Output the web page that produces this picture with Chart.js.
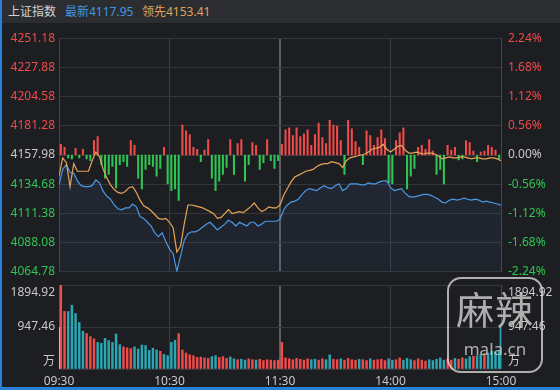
<!DOCTYPE html>
<html>
<head>
<meta charset="utf-8">
<script src="https://cdn.jsdelivr.net/npm/chart.js@4.4.1/dist/chart.umd.min.js"></script>
<style>
  body { margin: 0; width: 560px; height: 390px; overflow: hidden; position: relative; background: #1d1e22; font-family: "Noto Sans", "Noto Sans CJK SC", sans-serif; }
  #head { position: absolute; left: 0; top: 0; width: 560px; height: 23px; background: #2b2d31; font-size: 12px; line-height: 24px; white-space: nowrap; }
  #head span { position: absolute; top: 0; }
  #main { position: absolute; left: 0; top: 24px; }
  #vol { position: absolute; left: 0; top: 278px; }
  #edgeL { position: absolute; left: 0; top: 0; width: 2px; height: 390px; background: #2a7fd6; }
  #edgeB { position: absolute; left: 0; top: 387px; width: 560px; height: 3px; background: #2a7fd6; }
  #mark { position: absolute; left: 447px; top: 277px; width: 92px; height: 92px; border: 2px solid rgba(225,225,225,0.75); border-radius: 14px; color: rgba(200,200,200,0.85); text-align: center; }
  #mark .big { font-size: 38px; line-height: 40px; margin-top: 10px; letter-spacing: 1px; }
  #mark .small { font-size: 17px; line-height: 20px; margin-top: 10px; }
</style>
</head>
<body>
<div id="head">
  <span style="left:8px;color:#d2d2d2">上证指数</span>
  <span style="left:65px;color:#3f97e6">最新4117.95</span>
  <span style="left:142px;color:#e2a25a">领先4153.41</span>
</div>
<canvas id="main" width="560" height="262"></canvas>
<canvas id="vol" width="560" height="112"></canvas>
<div id="mark"><div class="big">麻辣</div><div class="small">mala.cn</div></div>
<div id="edgeL"></div>
<div id="edgeB"></div>
<script>
// time axis (minutes since 09:30, lunch break removed)
const timeTicks = [0, 60, 120, 180, 240];
const timeLabels = ['09:30', '10:30', '11:30', '14:00', '15:00'];

const prevClose = 4157.98;
const priceTicks = [4064.78, 4088.08, 4111.38, 4134.68, 4157.98, 4181.28, 4204.58, 4227.88, 4251.18];
const pctTicks = [-2.24, -1.68, -1.12, -0.56, 0, 0.56, 1.12, 1.68, 2.24];
const volTicks = [0, 947.46, 1894.92];

// index price, one value every 2 minutes
const price = [
  4134.2, 4146.5, 4150.3, 4144.2, 4143.4, 4137.3, 4133.5, 4132.7, 4132.7, 4133.5,
  4138.1, 4135.8, 4128.9, 4125.0, 4122.7, 4118.1, 4115.1, 4114.3, 4115.8, 4115.8,
  4118.9, 4116.6, 4108.9, 4107.4, 4104.3, 4101.3, 4095.9, 4092.8, 4095.9, 4089.0,
  4082.9, 4079.0, 4065.2, 4077.5, 4089.8, 4095.1, 4096.7, 4096.7, 4098.2, 4100.5,
  4102.8, 4104.3, 4101.3, 4098.2, 4100.5, 4102.8, 4105.9, 4104.3, 4101.3, 4104.3,
  4102.8, 4101.3, 4104.3, 4104.3, 4101.3, 4102.8, 4105.1, 4105.1, 4105.1, 4105.1,
  4106.6, 4114.3, 4118.1, 4120.4, 4121.2, 4122.7, 4126.6, 4129.6, 4131.2, 4130.4,
  4129.6, 4131.9, 4133.5, 4131.9, 4131.2, 4133.5, 4135.0, 4129.6, 4131.2, 4135.0,
  4135.0, 4135.0, 4134.2, 4134.2, 4135.8, 4135.0, 4135.0, 4136.5, 4137.3, 4137.3,
  4131.9, 4129.6, 4130.4, 4131.2, 4127.3, 4125.0, 4124.3, 4125.0, 4125.8, 4126.6,
  4126.6, 4125.8, 4124.3, 4122.7, 4120.4, 4119.7, 4122.0, 4122.7, 4122.0, 4122.7,
  4123.5, 4122.7, 4122.0, 4122.7, 4122.0, 4120.4, 4121.2, 4120.4, 4119.7, 4118.9,
  4117.95
];

// leading index (领先), same sampling
const lead = [
  4141.1, 4155.7, 4151.9, 4132.7, 4151.1, 4145.0, 4145.0, 4145.0, 4145.0, 4153.4,
  4160.3, 4156.5, 4146.5, 4139.6, 4134.2, 4130.4, 4128.1, 4127.3, 4128.9, 4131.9,
  4132.7, 4128.1, 4122.0, 4117.4, 4115.8, 4113.5, 4110.5, 4107.4, 4106.6, 4107.4,
  4104.3, 4099.7, 4080.6, 4085.2, 4102.8, 4118.1, 4118.1, 4117.4, 4116.6, 4115.8,
  4114.3, 4112.8, 4111.2, 4107.4, 4108.2, 4111.2, 4114.3, 4111.2, 4112.0, 4112.8,
  4112.0, 4114.3, 4116.6, 4119.7, 4115.8, 4112.8, 4114.3, 4116.6, 4115.8, 4115.8,
  4118.1, 4125.8, 4131.2, 4136.5, 4140.4, 4141.9, 4143.4, 4145.0, 4145.7, 4146.5,
  4148.8, 4150.3, 4151.1, 4151.1, 4152.6, 4151.9, 4151.1, 4148.0, 4153.4, 4155.7,
  4156.5, 4157.2, 4158.0, 4158.8, 4160.3, 4162.6, 4163.4, 4164.1, 4166.4, 4162.6,
  4160.3, 4162.6, 4164.9, 4165.7, 4161.8, 4159.5, 4159.5, 4160.3, 4159.5, 4158.8,
  4159.5, 4159.5, 4158.8, 4157.2, 4154.9, 4155.7, 4156.5, 4155.7, 4155.7, 4156.5,
  4156.5, 4155.7, 4154.9, 4155.7, 4155.7, 4154.9, 4154.9, 4155.7, 4155.7, 4154.9,
  4153.41
];

// red/green power bars, one per 2-minute slot
const power = [
  8.5, 6.2, -2.3, -3.1, 5.4, -2.3, 4.6, -3.1, -4.6, 11.6,
  14.6, -7.7, -18.5, -15.4, -9.2, -26.2, -7.7, -5.4, -9.2, 11.6,
  7.7, -18.5, -27.0, -11.6, -7.7, -9.2, -16.9, -10.8, 6.2, -23.1,
  -28.5, -27.0, -36.2, 23.9, 19.3, 16.2, 6.2, 4.6, -5.4, 3.9,
  12.3, -18.5, -28.5, -20.8, -15.4, -10.0, 12.3, -15.4, 9.2, 12.3,
  -20.8, -7.7, 10.0, 7.7, -11.6, -6.2, 12.3, -4.6, -10.8, -4.6,
  8.5, 20.0, 21.6, 15.4, 21.6, 14.6, 16.9, 20.0, 7.7, 16.2,
  25.4, 13.9, 9.2, 27.7, 23.9, 23.1, 11.6, -15.4, 27.7, 20.8,
  10.8, 6.2, -7.7, 19.3, 15.4, 7.7, 13.9, 20.0, 13.1, -22.3,
  -23.1, 11.6, 17.7, 21.6, -27.0, -16.9, -10.8, 6.2, 7.7, 4.6,
  12.3, 3.1, -15.4, -11.6, -23.1, 7.7, 3.9, 6.2, -3.9, -3.1,
  11.6, 10.0, 3.1, -5.4, 2.3, 3.1, 7.7, 6.2, 3.9, -3.1
];

// volume (万), one per 2-minute slot, plus opening and closing auction
const volume = [
  1895, 1300, 1296, 1440, 1250, 1050, 850, 800, 730, 680,
  600, 580, 690, 640, 600, 790, 550, 500, 480, 460,
  500, 450, 540, 530, 420, 470, 430, 400, 330, 300,
  600, 650, 800, 430, 360, 320, 300, 260, 270, 250,
  240, 280, 300, 260, 280, 240, 270, 230, 210, 220,
  200, 230, 210, 200, 220, 190, 210, 200, 190, 200,
  600, 250, 230, 210, 240, 220, 200, 230, 210, 220,
  200, 230, 210, 320, 220, 210, 230, 200, 240, 210,
  200, 220, 210, 190, 230, 200, 210, 220, 190, 230,
  200, 210, 250, 200, 240, 210, 190, 230, 200, 180,
  210, 190, 220, 250, 200, 230, 200, 240, 220, 250,
  230, 280, 290, 300, 330, 350, 360, 400, 380, 420
];
const openAuction = 940;
const closeAuction = 958;

const RED = '#ef4b4b';
const GREEN = '#2fc553';
const GRAY = '#c8c8c8';
const TEAL = '#2ba7b3';
const BLUE = '#4a98e6';
const ORANGE = '#e6a457';
const GRID = '#34363c';

Chart.defaults.font.family = '"Noto Sans", "Noto Sans CJK SC", sans-serif';
Chart.defaults.font.size = 12;

function vGridColor(c) {
  const v = c.tick && c.tick.value;
  if (v === 120) return '#5c5f66';
  if (v === 0 || v === 240) return '#44474d';
  return '#3b3e44';
}
function vGridWidth(c) {
  return c.tick && c.tick.value === 120 ? 2 : 1;
}

const mainCtx = document.getElementById('main');
new Chart(mainCtx, {
  type: 'line',
  data: {
    datasets: [
      {
        label: '最新',
        data: price.map((v, i) => ({x: i * 2, y: v})),
        borderColor: BLUE,
        borderWidth: 1.2,
        pointRadius: 0,
        fill: 'start',
        backgroundColor: (c) => {
          const a = c.chart.chartArea;
          if (!a) return 'transparent';
          const g = c.chart.ctx.createLinearGradient(0, a.top, 0, a.bottom);
          g.addColorStop(0, 'rgba(60,100,160,0.24)');
          g.addColorStop(1, 'rgba(60,100,160,0.08)');
          return g;
        },
        yAxisID: 'y',
        order: 1
      },
      {
        label: '领先',
        data: lead.map((v, i) => ({x: i * 2, y: v})),
        borderColor: ORANGE,
        borderWidth: 1.2,
        pointRadius: 0,
        fill: false,
        yAxisID: 'y',
        order: 0
      },
      {
        type: 'bar',
        label: '红绿柱',
        data: power.map((v, i) => ({x: i * 2 + 1, y: v})),
        backgroundColor: power.map(v => v >= 0 ? RED : GREEN),
        barThickness: 1.4,
        yAxisID: 'yp',
        order: 2
      }
    ]
  },
  options: {
    responsive: false,
    animation: false,
    layout: {padding: {top: 8, bottom: 11}},
    plugins: {legend: {display: false}, tooltip: {enabled: false}},
    scales: {
      x: {
        type: 'linear', min: 0, max: 240, offset: false,
        afterBuildTicks: (s) => { s.ticks = timeTicks.map(v => ({value: v})); },
        ticks: {display: false},
        grid: {color: vGridColor, lineWidth: vGridWidth, drawTicks: false, offset: false},
        border: {display: false},
        afterFit: (s) => { s.height = 0; }
      },
      y: {
        position: 'left', min: priceTicks[0], max: priceTicks[priceTicks.length - 1],
        afterBuildTicks: (s) => { s.ticks = priceTicks.map(v => ({value: v})); },
        ticks: {
          padding: 4,
          callback: (v) => v.toFixed(2),
          color: (c) => c.tick.value > prevClose + 0.01 ? RED : (c.tick.value < prevClose - 0.01 ? GREEN : GRAY)
        },
        grid: {color: GRID, drawTicks: false},
        border: {display: false},
        afterFit: (s) => { s.width = 59; }
      },
      yr: {
        position: 'right', min: pctTicks[0], max: pctTicks[pctTicks.length - 1],
        afterBuildTicks: (s) => { s.ticks = pctTicks.map(v => ({value: v})); },
        ticks: {
          padding: 7,
          callback: (v) => v.toFixed(2) + '%',
          color: (c) => c.tick.value > 0.001 ? RED : (c.tick.value < -0.001 ? GREEN : GRAY)
        },
        grid: {display: false, drawTicks: false},
        border: {display: false},
        afterFit: (s) => { s.width = 59; }
      },
      yp: {display: false, min: -93.2, max: 93.2}
    }
  }
});

const volLabels = {
  id: 'volLabels',
  afterDraw(chart) {
    const {ctx, chartArea} = chart;
    const y = chart.scales.y;
    const rows = [
      [volTicks[2].toFixed(2), y.getPixelForValue(volTicks[2]) + 8],
      [volTicks[1].toFixed(2), y.getPixelForValue(volTicks[1])],
      ['万', y.getPixelForValue(0) - 7]
    ];
    ctx.save();
    ctx.font = '12px "Noto Sans", "Noto Sans CJK SC", sans-serif';
    ctx.fillStyle = GRAY;
    ctx.textBaseline = 'middle';
    rows.forEach(([t, py]) => {
      ctx.textAlign = 'right';
      ctx.fillText(t, chartArea.left - 4, py);
      ctx.textAlign = 'left';
      ctx.fillText(t, chartArea.right + 7, py);
    });
    ctx.restore();
  }
};

const volColors = volume.map((v, i) => price[i + 1] >= price[i] ? RED : TEAL);

new Chart(document.getElementById('vol'), {
  type: 'bar',
  data: {
    datasets: [
      {
        label: '成交量',
        data: volume.map((v, i) => ({x: i * 2 + 1, y: v})),
        backgroundColor: volColors,
        barThickness: 1.8,
        grouped: false
      },
      {
        label: '开盘',
        data: [{x: 0, y: openAuction}],
        backgroundColor: '#e6e6e6',
        barThickness: 2,
        grouped: false
      },
      {
        label: '收盘',
        data: [{x: 240, y: closeAuction}],
        backgroundColor: TEAL,
        barThickness: 2,
        grouped: false
      }
    ]
  },
  options: {
    responsive: false,
    animation: false,
    layout: {padding: {top: 7}},
    plugins: {legend: {display: false}, tooltip: {enabled: false}},
    scales: {
      x: {
        type: 'linear', min: 0, max: 240, offset: false,
        afterBuildTicks: (s) => { s.ticks = timeTicks.map(v => ({value: v})); },
        ticks: {
          color: GRAY, padding: 5, autoSkip: false, maxRotation: 0,
          callback: (v) => timeLabels[timeTicks.indexOf(v)]
        },
        grid: {color: vGridColor, lineWidth: vGridWidth, drawTicks: false, offset: false},
        border: {display: false},
        afterFit: (s) => { s.height = 21; }
      },
      y: {
        position: 'left', min: 0, max: volTicks[2],
        afterBuildTicks: (s) => { s.ticks = volTicks.map(v => ({value: v})); },
        ticks: {display: false},
        grid: {color: GRID, drawTicks: false},
        border: {display: false},
        afterFit: (s) => { s.width = 59; }
      },
      yr: {
        position: 'right', min: 0, max: volTicks[2],
        ticks: {display: false},
        grid: {display: false, drawTicks: false},
        border: {display: false},
        afterFit: (s) => { s.width = 59; }
      }
    }
  },
  plugins: [volLabels]
});
</script>
</body>
</html>
